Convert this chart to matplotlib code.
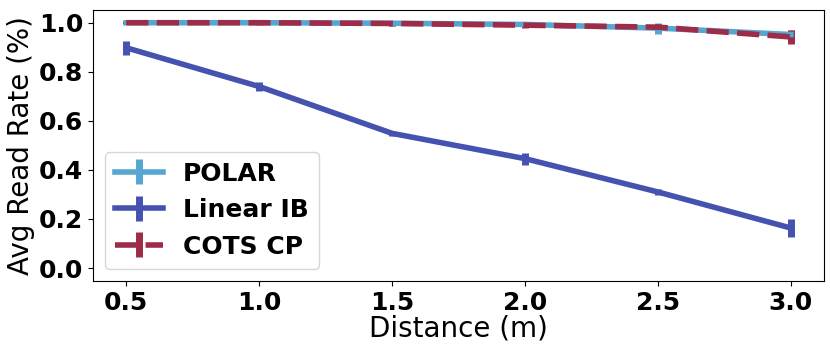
import matplotlib
matplotlib.use("Agg")
import matplotlib.pyplot as plt

# Data:
distances = [0.5, 1.0, 1.5, 2.0, 2.5, 3.0]

polarRate = [1.0, 1.0, 0.998, 0.993, 0.978, 0.952]
polarErr = [0.006, 0.006, 0.010, 0.010, 0.022, 0.018]

linearRate = [0.898, 0.740, 0.549, 0.446, 0.310, 0.163]
linearErr = [0.028, 0.020, 0.010, 0.025, 0.014, 0.038]

cotsRate = [1.0, 1.0, 0.997, 0.990, 0.982, 0.942]
cotsErr = [0.006, 0.008, 0.010, 0.010, 0.012, 0.028]

labels = ["POLAR", "Linear IB", "COTS CP"]

fig, ax = plt.subplots(figsize=(8.3, 3.44), dpi=100)

ax.errorbar(distances, polarRate, yerr=polarErr, color="#56a6d2", linewidth=4,
            elinewidth=5, label=labels[0])
ax.errorbar(distances, linearRate, yerr=linearErr, color="#4652b0", linewidth=4,
            elinewidth=5, label=labels[1])
ax.errorbar(distances, cotsRate, yerr=cotsErr, color="#9e2b47", linewidth=4,
            elinewidth=5, linestyle=(0, (4, 1.5)), label=labels[2])

# Axes:
ax.set_xlabel("Distance (m)", fontsize=20, labelpad=0)
ax.set_ylabel("Avg Read Rate (%)", fontsize=20, labelpad=3)
ax.set_xticks(distances)
ax.set_yticks([0.0, 0.2, 0.4, 0.6, 0.8, 1.0])
ax.set_ylim(-0.053, 1.052)
ax.set_xlim(0.375, 3.125)
for lab in ax.get_xticklabels() + ax.get_yticklabels():
    lab.set_fontweight("bold")
    lab.set_fontsize(18)

ax.legend(loc="lower left", prop={"weight": "bold", "size": 18}, handlelength=1.9)

fig.subplots_adjust(left=0.112, right=0.993, top=0.971, bottom=0.183)
fig.savefig("out.png")
